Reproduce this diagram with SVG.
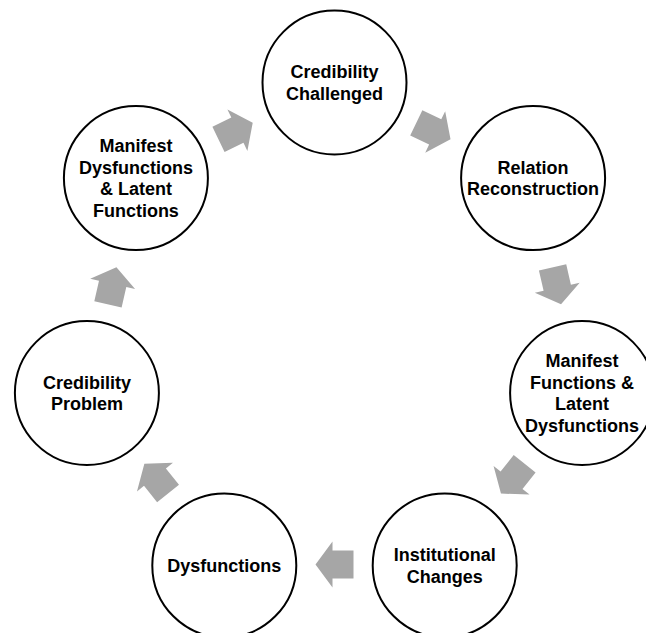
<svg xmlns="http://www.w3.org/2000/svg" width="646" height="633" viewBox="0 0 646 633">
<defs>
<style>
.node circle{fill:#fff;stroke:#000;stroke-width:2}
.node text{font-family:"Liberation Sans",Arial,sans-serif;font-weight:bold;font-size:18px;fill:#000;text-anchor:middle}
.arr{fill:#a6a6a6}
</style>
<path id="ar" d="M-19,-14 L2,-14 L2,-23 L19,0 L2,23 L2,14 L-19,14 Z"/>
</defs>
<rect width="646" height="633" fill="#fff"/>
<g id="connectors" class="arr">
<use href="#ar" transform="translate(433.4,131.1) rotate(25.71)"/>
<use href="#ar" transform="translate(556.8,285.8) rotate(77.14)"/>
<use href="#ar" transform="translate(512.8,478.7) rotate(128.57)"/>
<use href="#ar" transform="translate(334.5,564.5) rotate(180)"/>
<use href="#ar" transform="translate(156.2,478.7) rotate(231.43)"/>
<use href="#ar" transform="translate(112.2,285.8) rotate(282.86)"/>
<use href="#ar" transform="translate(235.6,131.1) rotate(334.29)"/>
</g>
<g id="n1" class="node"><circle cx="334.5" cy="82.5" r="72"/>
<text x="334.5" y="78.05">Credibility</text><text x="334.5" y="99.75">Challenged</text></g>
<g id="n2" class="node"><circle cx="533.1" cy="178.1" r="72"/>
<text x="533.1" y="173.65">Relation</text><text x="533.1" y="195.35">Reconstruction</text></g>
<g id="n3" class="node"><circle cx="582.1" cy="393" r="72"/>
<text x="582.1" y="366.85">Manifest</text><text x="582.1" y="388.55">Functions &amp;</text><text x="582.1" y="410.25">Latent</text><text x="582.1" y="431.95">Dysfunctions</text></g>
<g id="n4" class="node"><circle cx="444.7" cy="565.4" r="72"/>
<text x="444.7" y="560.95">Institutional</text><text x="444.7" y="582.65">Changes</text></g>
<g id="n5" class="node"><circle cx="224.3" cy="565.4" r="72"/>
<text x="224.3" y="571.8">Dysfunctions</text></g>
<g id="n6" class="node"><circle cx="86.9" cy="393" r="72"/>
<text x="86.9" y="388.55">Credibility</text><text x="86.9" y="410.25">Problem</text></g>
<g id="n7" class="node"><circle cx="135.9" cy="178.1" r="72"/>
<text x="135.9" y="151.95">Manifest</text><text x="135.9" y="173.65">Dysfunctions</text><text x="135.9" y="195.35">&amp; Latent</text><text x="135.9" y="217.05">Functions</text></g>
</svg>
